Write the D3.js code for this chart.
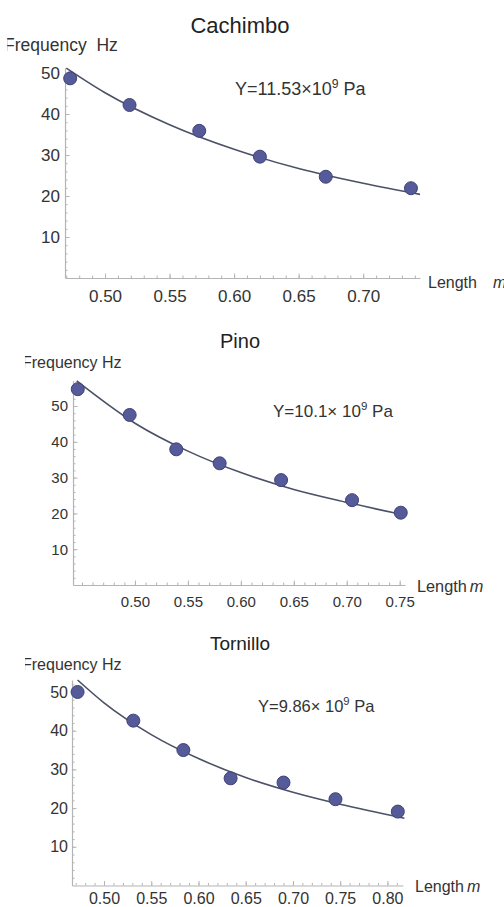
<!DOCTYPE html>
<html>
<head>
<meta charset="utf-8">
<script src="https://cdn.jsdelivr.net/npm/d3@7"></script>
<style>
  html, body { margin: 0; padding: 0; background: #fff; }
  svg { display: block; font-family: "Liberation Sans", Arial, sans-serif; }
</style>
</head>
<body>
<div id="chart"></div>
<script>
// measured points (length in m, frequency in Hz)
const cachimboLength = [0.473, 0.519, 0.573, 0.620, 0.671, 0.737];
const cachimboFreq   = [48.7, 42.2, 35.9, 29.6, 24.7, 21.9];
const pinoLength     = [0.446, 0.495, 0.539, 0.580, 0.638, 0.705, 0.751];
const pinoFreq       = [54.7, 47.5, 37.9, 34.0, 29.3, 23.7, 20.2];
const tornilloLength = [0.472, 0.531, 0.584, 0.634, 0.690, 0.745, 0.811];
const tornilloFreq   = [50.0, 42.6, 35.0, 27.7, 26.6, 22.3, 19.1];

// fitted curves
const cachimboFitLength = [0.470, 0.50, 0.55, 0.60, 0.65, 0.70, 0.744];
const cachimboFitFreq   = [51.2, 45.2, 37.4, 31.4, 26.7, 23.1, 20.4];
const pinoFitLength     = [0.445, 0.50, 0.55, 0.60, 0.65, 0.70, 0.752];
const pinoFitFreq       = [57.0, 45.2, 37.4, 31.4, 26.7, 23.1, 19.7];
const tornilloFitLength = [0.472, 0.50, 0.55, 0.60, 0.65, 0.70, 0.75, 0.818];
const tornilloFitFreq   = [53.1, 47.2, 39.0, 32.8, 27.9, 24.1, 21.0, 17.4];

const cachimboXTicks = [0.50, 0.55, 0.60, 0.65, 0.70];
const pinoXTicks     = [0.50, 0.55, 0.60, 0.65, 0.70, 0.75];
const tornilloXTicks = [0.50, 0.55, 0.60, 0.65, 0.70, 0.75, 0.80];
const yTicks = [10, 20, 30, 40, 50];

const titles = ["Cachimbo", "Pino", "Tornillo"];
const moduli = ["11.53", "10.1", "9.86"];

const width = 504, height = 907;

// per-panel placement
const panels = [
  { len: cachimboLength, freq: cachimboFreq, fitLen: cachimboFitLength, fitFreq: cachimboFitFreq, xTicks: cachimboXTicks,
    xDomain: [0.469, 0.744], xRange: [65, 420], yDomain: [0, 51.3], yRange: [278, 67.7],
    titleY: 33, titleSize: 22, tickSize: 17, xPad: 12, yPad: 5,
    ylab: { x: 4, y: 51, clip: 7.2, size: 17.5, text: "Frequency\u00a0\u00a0Hz" },
    ann: { x: 235, y: 95, size: 18, sep: "\u00d7" },
    xlab: { x: 428, y: 288, size: 16, gap: 16 } },
  { len: pinoLength, freq: pinoFreq, fitLen: pinoFitLength, fitFreq: pinoFitFreq, xTicks: pinoXTicks,
    xDomain: [0.4415, 0.755], xRange: [73, 405], yDomain: [0, 57.1], yRange: [585, 380.6],
    titleY: 348, titleSize: 20, tickSize: 15, xPad: 11, yPad: 5,
    ylab: { x: 22, y: 368, clip: 25, size: 16, text: "Frequency Hz" },
    ann: { x: 273, y: 417, size: 17, sep: "\u00d7 " },
    xlab: { x: 417, y: 592, size: 16.3, gap: 3 } },
  { len: tornilloLength, freq: tornilloFreq, fitLen: tornilloFitLength, fitFreq: tornilloFitFreq, xTicks: tornilloXTicks,
    xDomain: [0.4661, 0.8165], xRange: [72, 403], yDomain: [0, 53.1], yRange: [885.5, 680],
    titleY: 650, titleSize: 19, tickSize: 16, xPad: 7.5, yPad: 4,
    ylab: { x: 22, y: 670, clip: 25, size: 16, text: "Frequency Hz" },
    ann: { x: 258, y: 712, size: 16.5, sep: "\u00d7 " },
    xlab: { x: 415, y: 892, size: 16, gap: 3 } }
];

const svg = d3.select("#chart").append("svg")
  .attr("width", width)
  .attr("height", height);

const axisColor = "#b4b4b4";

panels.forEach((p, i) => {
  const x = d3.scaleLinear().domain(p.xDomain).range(p.xRange);
  const y = d3.scaleLinear().domain(p.yDomain).range(p.yRange);
  const g = svg.append("g");

  // minor ticks first
  const xMinor = d3.range(Math.ceil(p.xDomain[0] * 100), Math.floor(p.xDomain[1] * 100) + 1).map(d => d / 100);
  const yMinor = d3.range(2, p.yDomain[1], 2);
  g.append("g").attr("transform", `translate(0,${p.yRange[0]})`)
    .call(d3.axisBottom(x).tickValues(xMinor).tickSizeInner(-2.5).tickSizeOuter(0).tickFormat(""))
    .call(a => a.select(".domain").remove())
    .call(a => a.selectAll("line").attr("stroke", axisColor));
  g.append("g").attr("transform", `translate(${p.xRange[0]},0)`)
    .call(d3.axisLeft(y).tickValues(yMinor).tickSizeInner(-2.5).tickSizeOuter(0).tickFormat(""))
    .call(a => a.select(".domain").remove())
    .call(a => a.selectAll("line").attr("stroke", axisColor));

  // major axes
  const xAxis = g.append("g").attr("transform", `translate(0,${p.yRange[0]})`)
    .call(d3.axisBottom(x).tickValues(p.xTicks).tickFormat(d3.format(".2f"))
      .tickSizeInner(-4.5).tickSizeOuter(0).tickPadding(p.xPad));
  const yAxis = g.append("g").attr("transform", `translate(${p.xRange[0]},0)`)
    .call(d3.axisLeft(y).tickValues(yTicks).tickSizeInner(-4.5).tickSizeOuter(0).tickPadding(p.yPad));
  [xAxis, yAxis].forEach(a => {
    a.select(".domain").attr("stroke", axisColor).attr("stroke-width", 1.2);
    a.selectAll("line").attr("stroke", axisColor);
    a.selectAll("text").attr("fill", "#333").style("font-size", p.tickSize + "px")
      .style("font-family", '"Liberation Sans", Arial, sans-serif');
  });

  // fitted curve
  const fit = p.fitLen.map((l, k) => [l, p.fitFreq[k]]);
  g.append("path")
    .datum(fit)
    .attr("fill", "none")
    .attr("stroke", "#4b5166")
    .attr("stroke-width", 1.6)
    .attr("d", d3.line().x(d => x(d[0])).y(d => y(d[1])).curve(d3.curveMonotoneX));

  // measured points
  g.selectAll("circle")
    .data(p.len.map((l, k) => [l, p.freq[k]]))
    .join("circle")
    .attr("cx", d => x(d[0]))
    .attr("cy", d => y(d[1]))
    .attr("r", 6.5)
    .attr("fill", "#555a98")
    .attr("stroke", "#40427a")
    .attr("stroke-width", 1);

  // title
  g.append("text")
    .attr("x", 240).attr("y", p.titleY)
    .attr("text-anchor", "middle")
    .attr("fill", "#222")
    .style("font-size", p.titleSize + "px")
    .text(titles[i]);

  // y label, its F stem is cut off in the source
  const clipId = "ylab-clip-" + i;
  svg.append("clipPath").attr("id", clipId)
    .append("rect").attr("x", p.ylab.clip).attr("y", p.ylab.y - 25).attr("width", 200).attr("height", 40);
  g.append("text")
    .attr("x", p.ylab.x).attr("y", p.ylab.y)
    .attr("clip-path", `url(#${clipId})`)
    .attr("fill", "#333")
    .style("font-size", p.ylab.size + "px")
    .text(p.ylab.text);

  // x label
  const xl = g.append("text")
    .attr("x", p.xlab.x).attr("y", p.xlab.y)
    .attr("fill", "#333")
    .style("font-size", p.xlab.size + "px");
  xl.append("tspan").text("Length");
  xl.append("tspan").attr("dx", p.xlab.gap).style("font-style", "italic").text("m");

  // modulus annotation
  const an = g.append("text")
    .attr("x", p.ann.x).attr("y", p.ann.y)
    .attr("fill", "#333")
    .style("font-size", p.ann.size + "px");
  an.append("tspan").text("Y=" + moduli[i] + p.ann.sep + "10");
  an.append("tspan").attr("dy", -7).style("font-size", (p.ann.size * 0.68) + "px").text("9");
  an.append("tspan").attr("dy", 7).text("\u00a0Pa");
});
</script>
</body>
</html>
